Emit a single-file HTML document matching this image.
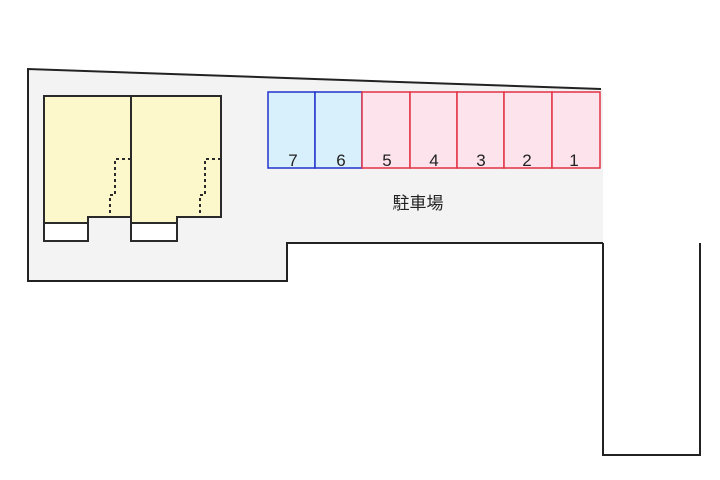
<!DOCTYPE html>
<html><head><meta charset="utf-8"><style>body{margin:0;background:#fff}svg{display:block}</style></head><body>
<svg width="720" height="480" xmlns="http://www.w3.org/2000/svg" font-family="'Liberation Sans','Noto Sans CJK JP',sans-serif">
<polygon points="28,69 601,89 603,89 603,243 287,243 287,281 28,281" fill="#f3f3f3"/>
<polyline points="601,89 28,69 28,281 287,281 287,243 603,243" fill="none" stroke="#222" stroke-width="2"/>
<polyline points="603,243 603,455 700,455 700,243" fill="none" stroke="#222" stroke-width="2"/>
<g stroke="#2a2a2a" stroke-width="2">
<polygon points="44,96 131,96 131,217 88,217 88,223 44,223" fill="#fdf8cc"/>
<polygon points="131,96 221,96 221,217 177,217 177,223 131,223" fill="#fdf8cc"/>
<rect x="44" y="223" width="44" height="18" fill="#fff"/>
<rect x="131" y="223" width="46" height="18" fill="#fff"/>
<g fill="none" stroke-dasharray="3,3"><polyline points="131,159 115,159 115,195 110,195 110,217"/><polyline points="221,159 205,159 205,195 200,195 200,217"/></g>
</g>
<g stroke="#2233cc" stroke-width="1.5" fill="#d8f0fb"><rect x="268" y="92" width="47" height="76"/><rect x="315" y="92" width="47" height="76"/></g>
<g stroke="#e23344" stroke-width="1.5" fill="#fde3ec"><rect x="362" y="92" width="48" height="76"/><rect x="410" y="92" width="47" height="76"/><rect x="457" y="92" width="47" height="76"/><rect x="504" y="92" width="48" height="76"/><rect x="552" y="92" width="48" height="76"/></g>
<g font-size="17" fill="#222" text-anchor="middle"><text x="293" y="166">7</text><text x="341" y="166">6</text><text x="387" y="166">5</text><text x="434" y="166">4</text><text x="481" y="166">3</text><text x="527" y="166">2</text><text x="574" y="166">1</text></g>
<text x="418" y="209" font-size="17" fill="#222" text-anchor="middle">駐車場</text>
</svg>
</body></html>
